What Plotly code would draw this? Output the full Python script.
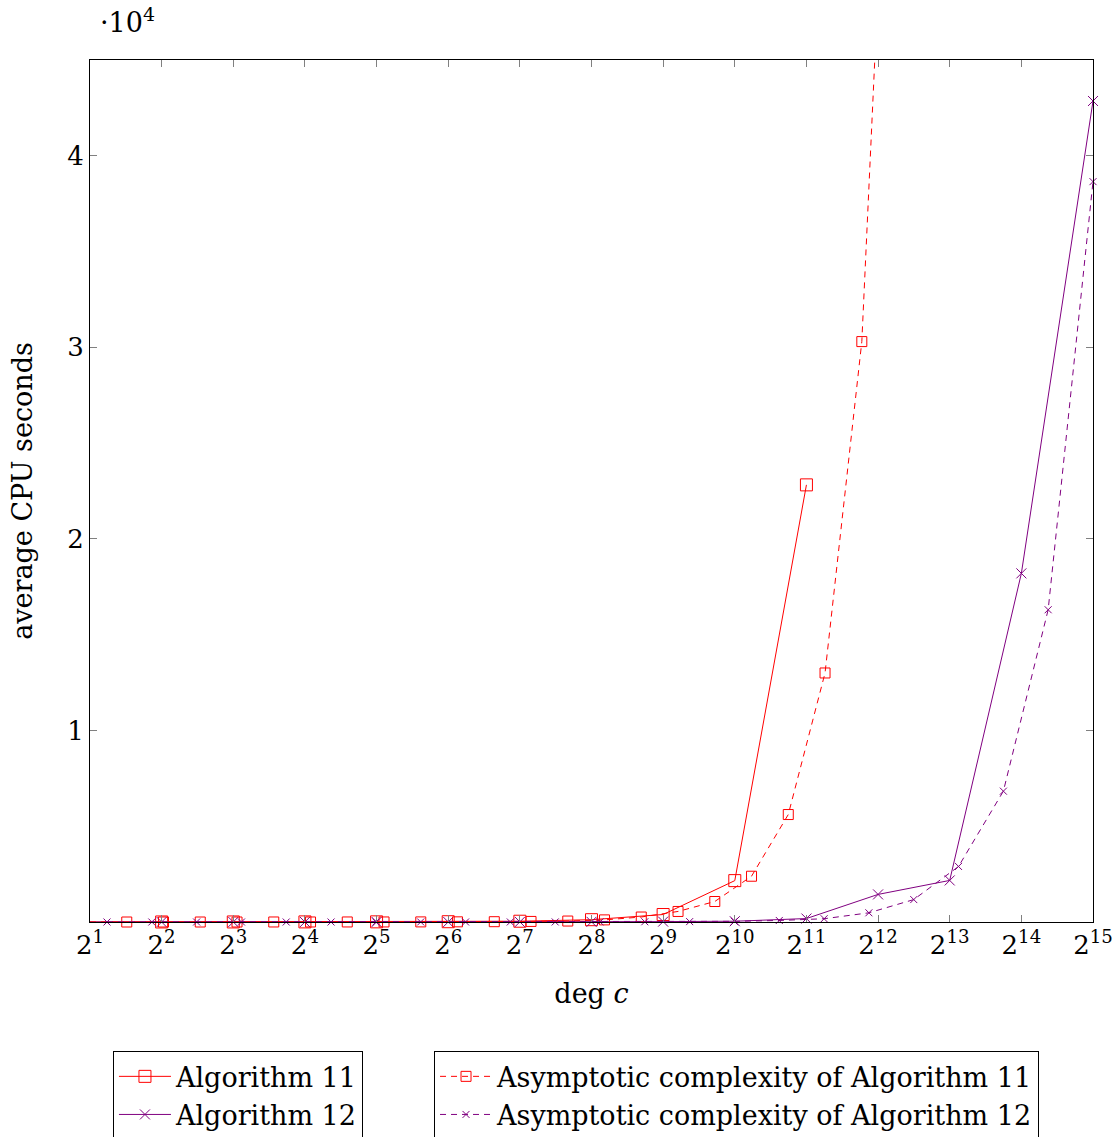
import plotly.graph_objects as go

# ---- data ----
deg_alg = [2, 4, 8, 16, 32, 64, 128, 256, 512, 1024, 2048, 4096, 8192, 16384, 32768]
alg11_cpu = [1, 2, 3, 5, 8, 15, 40, 120, 390, 2160, 22820]
alg12_cpu = [0, 0, 1, 1, 2, 3, 5, 10, 20, 40, 180, 1440, 2170, 18200, 42860]

deg_asym11 = [2.00, 2.854, 4.073, 5.812, 8.294, 11.835, 16.89, 24.10, 34.39, 49.08,
              70.03, 99.95, 142.6, 203.5, 290.4, 414.4, 591.4, 844.0, 1204, 1718,
              2452, 3500, 4994]
asym11_cpu = [0, 0, 0, 0, 0, 1, 1, 2, 3, 5, 9, 16, 30, 50, 110, 260, 550, 1070,
              2390, 5610, 13000, 30300, 72000]

deg_asym12 = [2.357, 3.638, 5.61, 8.66, 13.35, 20.6, 31.8, 49.05, 75.7, 116.7,
              180.2, 278, 428.8, 661.7, 1020, 1575, 2431, 3748, 5785, 8921,
              13768, 21234, 32768]
asym12_cpu = [0, 0, 0, 0, 0, 0, 0, 1, 1, 2, 3, 6, 12, 20, 35, 80, 170, 480,
              1170, 2900, 6830, 16300, 38650]

xtick_vals = deg_alg
xtick_text = ["2<sup>%d</sup>" % i for i in range(1, 16)]
ytick_vals = [10000, 20000, 30000, 40000]
ytick_text = ["1", "2", "3", "4"]

RED = "#ff0000"
PURPLE = "#800080"
FONT = "DejaVu Serif"
FS = 27
TFS = 26

fig = go.Figure()
fig.add_trace(go.Scatter(
    x=deg_alg[:len(alg11_cpu)], y=alg11_cpu, name="Algorithm 11", mode="lines+markers",
    line=dict(color=RED, width=1),
    marker=dict(symbol="square-open", size=12, color=RED, line=dict(width=1, color=RED)),
    cliponaxis=False, legend="legend"))
fig.add_trace(go.Scatter(
    x=deg_alg, y=alg12_cpu, name="Algorithm 12", mode="lines+markers",
    line=dict(color=PURPLE, width=1),
    marker=dict(symbol="x-thin-open", size=10, color=PURPLE, line=dict(width=1, color=PURPLE)),
    cliponaxis=False, legend="legend"))
fig.add_trace(go.Scatter(
    x=deg_asym11, y=asym11_cpu, name="Asymptotic complexity of Algorithm 11",
    mode="lines+markers",
    line=dict(color=RED, width=1, dash="6px,5px"),
    marker=dict(symbol="square-open", size=10, color=RED, line=dict(width=1, color=RED)),
    cliponaxis=False, legend="legend2"))
fig.add_trace(go.Scatter(
    x=deg_asym12, y=asym12_cpu, name="Asymptotic complexity of Algorithm 12",
    mode="lines+markers",
    line=dict(color=PURPLE, width=1, dash="6px,5px"),
    marker=dict(symbol="x-thin-open", size=7, color=PURPLE, line=dict(width=1, color=PURPLE)),
    cliponaxis=False, legend="legend2"))

axis_common = dict(
    showline=True, linecolor="black", linewidth=1.2, mirror="ticks",
    ticks="inside", ticklen=7, tickcolor="#808080", tickwidth=1,
    showgrid=False, zeroline=False,
    tickfont=dict(family=FONT, size=TFS, color="black"),
)

fig.update_layout(
    width=1119, height=1137,
    paper_bgcolor="white", plot_bgcolor="white",
    margin=dict(l=90, r=26, t=60, b=214.5, autoexpand=False),
    font=dict(family=FONT, size=FS, color="black"),
    xaxis=dict(type="log", range=[0.30103, 4.51545],
               tickvals=xtick_vals, ticktext=xtick_text,
               title=dict(text="deg <i>c</i>", font=dict(family=FONT, size=FS), standoff=24),
               automargin=False, **axis_common),
    yaxis=dict(range=[0, 45000], tickvals=ytick_vals, ticktext=ytick_text,
               title=dict(text="average CPU seconds", font=dict(family=FONT, size=FS), standoff=26),
               automargin=False, **axis_common),
    legend=dict(x=0.0229, y=-0.150, xanchor="left", yanchor="top",
                bordercolor="black", borderwidth=1, bgcolor="white",
                font=dict(family=FONT, size=FS), itemwidth=52, tracegroupgap=0),
    legend2=dict(x=0.343, y=-0.150, xanchor="left", yanchor="top",
                 bordercolor="black", borderwidth=1, bgcolor="white",
                 font=dict(family=FONT, size=FS), itemwidth=52, tracegroupgap=0),
    annotations=[dict(text="·10<sup>4</sup>", xref="paper", yref="paper",
                      x=0.008, y=1.0, xanchor="left", yanchor="bottom", yshift=20,
                      showarrow=False, font=dict(family=FONT, size=FS))],
)

fig.write_html("out.html")
